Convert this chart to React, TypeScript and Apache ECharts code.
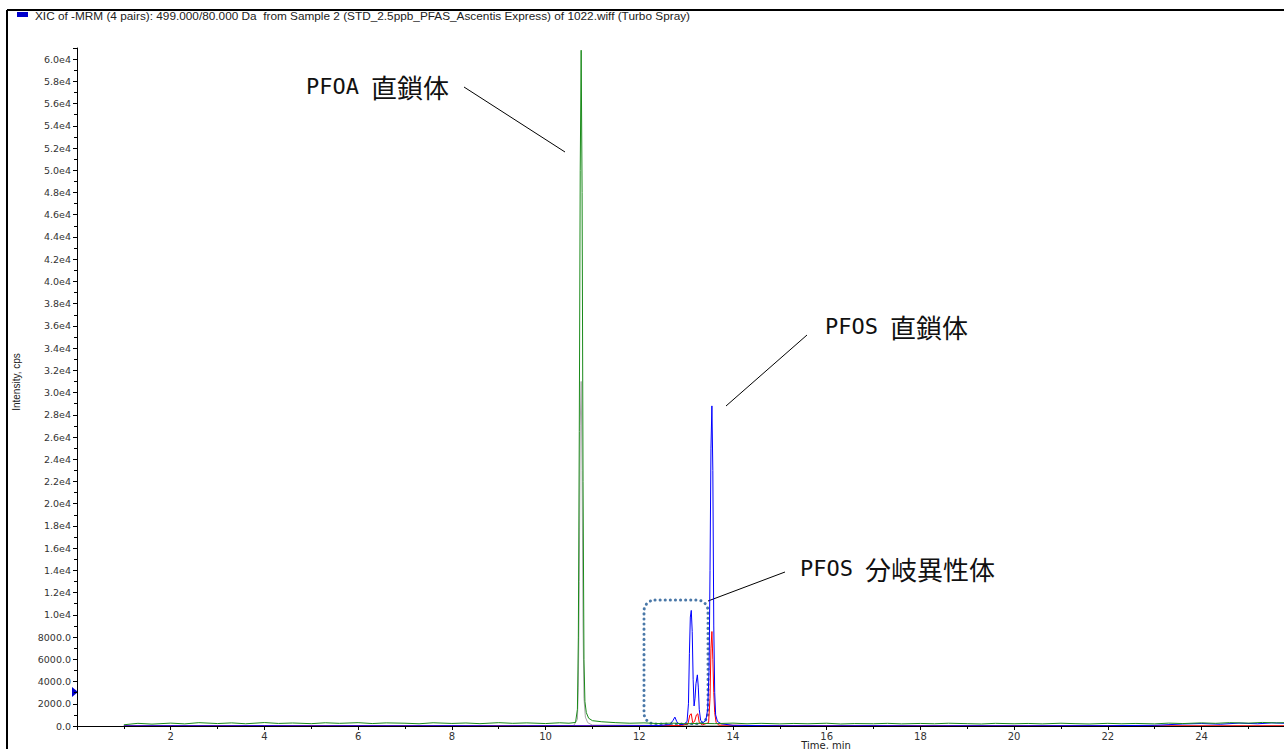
import React, { useEffect, useRef } from "react";
import * as echarts from "echarts";

const headerText =
  "XIC of -MRM (4 pairs): 499.000/80.000 Da  from Sample 2 (STD_2.5ppb_PFAS_Ascentis Express) of 1022.wiff (Turbo Spray)";
const yAxisName = "Intensity, cps";
const xAxisName = "Time, min";

// PFOA (green, quant transition)
const greenData: [number, number][] = [
  [1.0, 110], [1.3, 240], [1.6, 170], [2.0, 260], [2.3, 190], [2.6, 300], [3.0, 220], [3.3, 280],
  [3.6, 200], [4.0, 310], [4.3, 230], [4.6, 270], [5.0, 210], [5.3, 290], [5.6, 240], [6.0, 300],
  [6.3, 220], [6.6, 280], [7.0, 250], [7.3, 200], [7.6, 290], [8.0, 230], [8.3, 270], [8.6, 210],
  [9.0, 300], [9.3, 240], [9.6, 280], [10.0, 220], [10.3, 290], [10.5, 250], [10.64, 320],
  [10.68, 1500], [10.7, 8000], [10.72, 26500], [10.74, 50000], [10.76, 60800], [10.78, 48000],
  [10.8, 22000], [10.82, 6000], [10.84, 2200], [10.87, 1200], [10.92, 700], [11.0, 480],
  [11.2, 380], [11.5, 300], [11.8, 250], [12.1, 280], [12.4, 220], [12.7, 260], [13.0, 200],
  [13.3, 240], [13.6, 210], [14.0, 260], [14.3, 200], [14.6, 240], [15.0, 190], [15.3, 230],
  [15.6, 200], [16.0, 250], [16.3, 180], [16.6, 220], [17.0, 200], [17.3, 240], [17.6, 190],
  [18.0, 230], [18.3, 200], [18.6, 250], [19.0, 210], [19.3, 180], [19.6, 240], [20.0, 200],
  [20.3, 230], [20.6, 190], [21.0, 250], [21.3, 210], [21.6, 180], [22.0, 240], [22.3, 200],
  [22.6, 230], [23.0, 190], [23.3, 260], [23.6, 220], [24.0, 280], [24.3, 240], [24.6, 300],
  [25.0, 260], [25.3, 320], [25.6, 280], [25.8, 300],
];

// PFOA (grey, qualifier transition)
const greyData: [number, number][] = [
  [1.0, 10], [5.0, 20], [10.0, 15], [10.6, 40], [10.68, 600], [10.7, 3500], [10.72, 13000],
  [10.74, 27000], [10.76, 31000], [10.78, 23000], [10.8, 9000], [10.82, 2500], [10.85, 800],
  [10.9, 300], [11.0, 80], [15.0, 15], [20.0, 20], [25.8, 15],
];

// PFOS 499/80 (blue)
const blueData: [number, number][] = [
  [1.0, 10], [2.0, 20], [3.0, 15], [4.0, 25], [5.0, 10], [6.0, 20], [7.0, 15], [8.0, 25],
  [9.0, 10], [10.0, 20], [11.0, 15], [12.0, 30], [12.4, 40], [12.65, 120], [12.72, 500],
  [12.76, 800], [12.8, 400], [12.86, 120], [12.95, 150], [13.02, 400], [13.05, 2000],
  [13.07, 6500], [13.09, 9800], [13.11, 10400], [13.13, 8500], [13.15, 4200], [13.17, 1800],
  [13.19, 2500], [13.21, 3800], [13.24, 4600], [13.26, 3500], [13.28, 1500], [13.31, 500],
  [13.36, 300], [13.42, 500], [13.46, 1500], [13.49, 5000], [13.51, 14000], [13.53, 25000],
  [13.55, 28800], [13.57, 23000], [13.59, 9000], [13.61, 3000], [13.63, 1000], [13.67, 400],
  [13.75, 200], [14.0, 60], [15.0, 20], [16.0, 15], [17.0, 25], [18.0, 10], [19.0, 20],
  [20.0, 15], [21.0, 25], [22.0, 30], [23.0, 60], [23.6, 180], [24.0, 220], [24.4, 160],
  [24.8, 260], [25.2, 200], [25.5, 280], [25.8, 240],
];

// PFOS 499/99 (red)
const redData: [number, number][] = [
  [1.0, 10], [4.0, 20], [8.0, 15], [12.0, 20], [12.9, 40], [13.04, 200], [13.08, 1000],
  [13.11, 1100], [13.14, 300], [13.18, 400], [13.22, 1000], [13.25, 1100], [13.28, 300],
  [13.35, 100], [13.48, 300], [13.51, 2500], [13.53, 7000], [13.55, 8500], [13.57, 6000],
  [13.59, 3000], [13.61, 1200], [13.64, 300], [13.7, 80], [15.0, 20], [20.0, 15], [25.8, 20],
];

const annotations = [
  { latin: "PFOA", cjk: "直鎖体", x: 306, y: 86, line: [464, 87, 565, 152] },
  { latin: "PFOS", cjk: "直鎖体", x: 825, y: 326, line: [807, 335, 726, 406] },
  { latin: "PFOS", cjk: "分岐異性体", x: 800, y: 568, line: [785, 572, 708, 601] },
];

const tickFont = "DejaVu Sans, Liberation Sans, Arial, sans-serif";

export default function App() {
  const ref = useRef<HTMLDivElement>(null);
  useEffect(() => {
    if (!ref.current) return;
    const chart = echarts.init(ref.current, null, { renderer: "svg" });
    const mkSeries = (name: string, data: [number, number][], color: string) => ({
      name,
      type: "line",
      data,
      showSymbol: false,
      symbol: "none",
      lineStyle: { color, width: 1 },
      itemStyle: { color },
      silent: true,
    });
    const graphics: any[] = [
      { type: "line", shape: { x1: 7, y1: 10, x2: 1284, y2: 10 }, style: { stroke: "#000", lineWidth: 2 } },
      { type: "line", shape: { x1: 7, y1: 10, x2: 7, y2: 749 }, style: { stroke: "#000", lineWidth: 2 } },
      { type: "rect", shape: { x: 17, y: 12, width: 11, height: 5 }, style: { fill: "#0000cc" } },
      {
        type: "text",
        x: 35,
        y: 16,
        style: {
          text: headerText,
          fill: "#222",
          font: "11.8px Liberation Sans, Arial, sans-serif",
          textVerticalAlign: "middle",
        },
      },
      {
        type: "text",
        x: 16,
        y: 382,
        rotation: Math.PI / 2,
        style: {
          text: yAxisName,
          fill: "#222",
          font: "10px Liberation Sans, Arial, sans-serif",
          textAlign: "center",
          textVerticalAlign: "middle",
        },
      },
      {
        type: "text",
        x: 826,
        y: 745,
        style: {
          text: xAxisName,
          fill: "#222",
          font: "10px " + tickFont,
          textAlign: "center",
          textVerticalAlign: "middle",
        },
      },
      {
        type: "polygon",
        shape: { points: [[72, 687], [78, 692], [72, 697]] },
        style: { fill: "#0000cc" },
      },
      {
        type: "rect",
        shape: { x: 644, y: 600, width: 64, height: 124, r: 11 },
        style: { fill: "none", stroke: "#4a78a8", lineWidth: 3, lineDash: [0.1, 5], lineCap: "round" },
      },
    ];
    annotations.forEach((a) => {
      graphics.push({
        type: "text",
        x: a.x,
        y: a.y,
        style: {
          text: a.latin,
          fill: "#111",
          font: "22px DejaVu Sans Mono, sans-serif",
          textVerticalAlign: "middle",
        },
      });
      graphics.push({
        type: "text",
        x: a.x + 65,
        y: a.y,
        style: {
          text: a.cjk,
          fill: "#111",
          font: "26px Noto Sans CJK JP, sans-serif",
          textVerticalAlign: "middle",
        },
      });
      graphics.push({
        type: "line",
        shape: { x1: a.line[0], y1: a.line[1], x2: a.line[2], y2: a.line[3] },
        style: { stroke: "#000", lineWidth: 1 },
      });
    });

    chart.setOption({
      animation: false,
      backgroundColor: "#fff",
      grid: { left: 77, right: 0, top: 48, bottom: 23 },
      xAxis: {
        type: "value",
        min: 0,
        max: 25.76,
        interval: 2,
        z: 5,
        axisLine: { show: true, lineStyle: { color: "#000", width: 1 } },
        axisTick: { show: true, length: 4, lineStyle: { color: "#000" } },
        minorTick: { show: true, splitNumber: 2, length: 3, lineStyle: { color: "#000" } },
        splitLine: { show: false },
        axisLabel: {
          color: "#333",
          fontSize: 10,
          fontFamily: tickFont,
          margin: 5,
          showMaxLabel: false,
          formatter: (v: number) => (v > 0 && Math.abs(v % 2) < 1e-6 ? String(v) : ""),
        },
      },
      yAxis: {
        type: "value",
        min: 0,
        max: 61000,
        interval: 2000,
        axisLine: { show: true, lineStyle: { color: "#000", width: 1 } },
        axisTick: { show: true, length: 4, lineStyle: { color: "#000" } },
        minorTick: { show: true, splitNumber: 2, length: 3, lineStyle: { color: "#000" } },
        splitLine: { show: false },
        axisLabel: {
          color: "#333",
          fontSize: 9.5,
          fontFamily: tickFont,
          margin: 6,
          showMaxLabel: false,
          formatter: (v: number) => {
            if (v % 2000 !== 0) return "";
            return v >= 10000 ? (v / 10000).toFixed(1) + "e4" : v.toFixed(1);
          },
        },
      },
      series: [
        mkSeries("PFOA 413/169", greyData, "#a8a8a8"),
        mkSeries("PFOS 499/99", redData, "#ff0000"),
        mkSeries("PFOS 499/80", blueData, "#0000ff"),
        mkSeries("PFOA 413/369", greenData, "#1a8a1a"),
      ],
      graphic: graphics,
    });
    return () => chart.dispose();
  }, []);
  return (
    <div
      ref={ref}
      style={{ position: "absolute", left: 0, top: 0, width: 1284, height: 749, background: "#fff" }}
    />
  );
}
